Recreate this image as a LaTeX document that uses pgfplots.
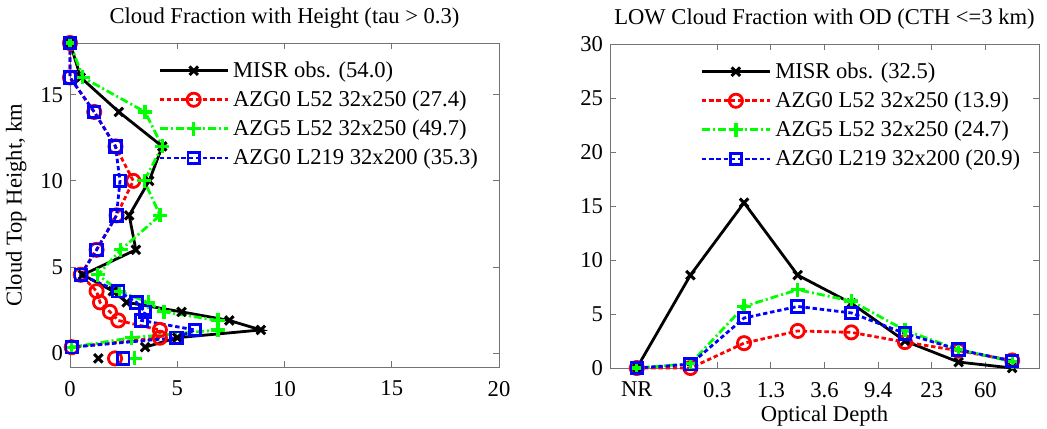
\documentclass[border=0pt]{standalone}
\usepackage{fontspec}
\setmainfont{Liberation Serif}
\usepackage{pgfplots}
\pgfplotsset{compat=1.18}
\definecolor{mgreen}{RGB}{0,255,0}
\newcommand{\fs}{\rmfamily\fontsize{11.3}{13}\selectfont}

\pgfplotsset{
  matstyle/.style={
    scale only axis, width=214.5pt, height=162pt, anchor=south west,
    clip=false,
    axis line style={black!55}, tick style={black!55, line width=0.5pt},
    tick align=inside, major tick length=3pt,
    tick label style={font=\fs, /pgf/number format/assume math mode=true},
    xticklabel style={yshift=-3.5pt},
    label style={font=\fs}, title style={font=\fs, yshift=-2pt},
    xlabel style={yshift=2.5pt},
    legend style={draw=none, fill=none, font=\fs, anchor=north west,
                  row sep=1.2pt, inner sep=0pt},
    legend cell align=left,
    legend image code/.code={
      \draw[mark repeat=2,mark phase=2,##1]
        plot coordinates {(0pt,0pt) (17pt,0pt) (34pt,0pt)};},
  },
  misr/.style={black, solid, line width=1.4pt, mark=x, mark size=3pt,
               mark options={solid, line width=1.5pt}},
  red52/.style={red, line width=1.4pt, dash pattern=on 2.2pt off 1.4pt,
                mark=o, mark size=3.3pt, mark options={solid}},
  grn52/.style={mgreen, line width=1.4pt,
                dash pattern=on 4pt off 1.5pt on 1pt off 1.5pt,
                mark=+, mark size=3.5pt, mark options={solid, line width=1.6pt}},
  blu219/.style={blue, line width=1.4pt, dash pattern=on 2.2pt off 1.4pt,
                 mark=square, mark size=2.9pt, mark options={solid}},
}

\begin{document}
\begin{tikzpicture}
\useasboundingbox (0,0) rectangle (523.5pt,214pt);

% left: cloud fraction with height
\begin{axis}[matstyle, at={(35pt,30.5pt)},
  xmin=0, xmax=20, ymin=-0.8, ymax=18,
  xtick={0,5,...,20}, ytick={0,5,10,15},
  ylabel={Cloud Top Height, km},
  title={Cloud Fraction with Height (tau > 0.3)},
  legend style={at={(0.205,0.957)}},
]
\addplot[misr] coordinates {
  (0,18) (0.5,16) (2.28,14) (4.3,12) (3.69,10) (2.76,8) (3.07,6) (0.6,4.55)
  (2.0,3.6) (2.64,2.95) (5.2,2.4) (7.43,1.9) (8.9,1.35) (5.0,0.9) (3.5,0.35)};
\addplot[red52] coordinates {
  (0,18) (0,16) (1.13,14) (2.12,12) (2.95,10) (2.17,8) (1.24,6) (0.5,4.55)
  (1.24,3.6) (1.4,2.95) (1.86,2.4) (2.25,1.9) (4.19,1.35) (4.19,0.9) (0.08,0.35)};
\addplot[grn52] coordinates {
  (0,18) (0.6,16) (3.5,14) (4.3,12) (3.46,10) (4.2,8) (2.37,6) (1.3,4.55)
  (2.3,3.6) (3.65,2.95) (4.38,2.4) (6.9,1.9) (6.9,1.35) (2.87,0.9) (0.08,0.35)};
\addplot[blu219] coordinates {
  (0,18) (0,16) (1.13,14) (2.12,12) (2.33,10) (2.17,8) (1.24,6) (0.5,4.55)
  (2.25,3.6) (3.1,2.95) (3.5,2.4) (3.34,1.9) (5.83,1.35) (4.97,0.9) (0.08,0.35)};
\legend{MISR obs. (54.0), AZG0 L52 32x250 (27.4), AZG5 L52 32x250 (49.7), AZG0 L219 32x200 (35.3)}
% no-retrieval points, unconnected
\addplot[misr, only marks, forget plot] coordinates {(1.32,-0.3)};
\addplot[red52, only marks, forget plot] coordinates {(2.1,-0.3)};
\addplot[grn52, only marks, forget plot] coordinates {(3.02,-0.3)};
\addplot[blu219, only marks, forget plot] coordinates {(2.48,-0.3)};
\end{axis}

% right: low cloud fraction with optical depth
\begin{axis}[matstyle, at={(305pt,30pt)},
  xmin=-0.5, xmax=7.5, ymin=0, ymax=30,
  xtick={1.5,2.5,...,6.5}, xticklabels={0.3,1.3,3.6,9.4,23,60},
  extra x ticks={0}, extra x tick labels={NR},
  extra x tick style={major tick length=0pt},
  ytick={0,5,...,30},
  xlabel={Optical Depth},
  title={LOW Cloud Fraction with OD (CTH <=3 km)},
  legend style={at={(0.21,0.957)}},
]
\addplot[misr] coordinates {
  (0,0) (1,8.6) (2,15.3) (3,8.6) (4,6.0) (5,2.5) (6,0.55) (7,0.0)};
\addplot[red52] coordinates {
  (0,0) (1,0) (2,2.3) (3,3.43) (4,3.3) (5,2.4) (6,1.6) (7,0.7)};
\addplot[grn52] coordinates {
  (0,0) (1,0.4) (2,5.7) (3,7.25) (4,6.2) (5,3.5) (6,1.7) (7,0.6)};
\addplot[blu219] coordinates {
  (0,0) (1,0.35) (2,4.63) (3,5.7) (4,5.1) (5,3.2) (6,1.7) (7,0.65)};
\legend{MISR obs. (32.5), AZG0 L52 32x250 (13.9), AZG5 L52 32x250 (24.7), AZG0 L219 32x200 (20.9)}
\end{axis}
\end{tikzpicture}
\end{document}
